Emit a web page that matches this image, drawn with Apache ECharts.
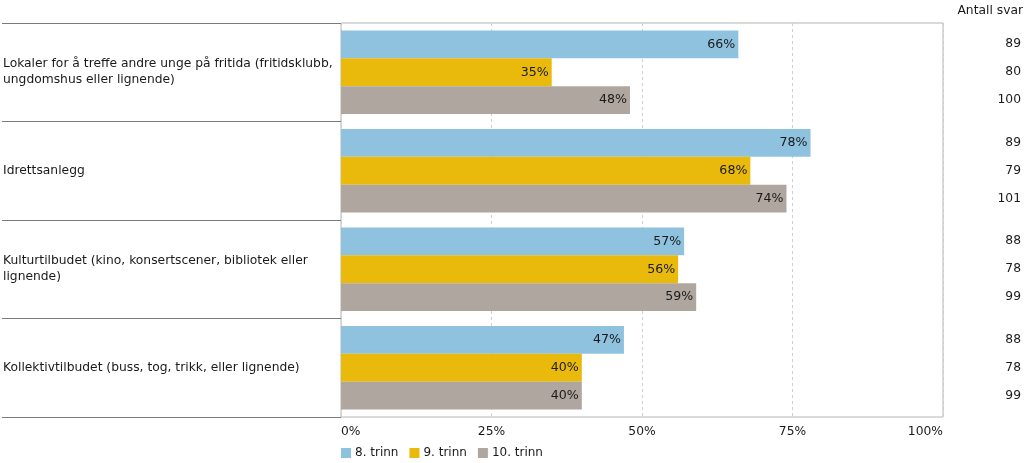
<!DOCTYPE html>
<html>
<head>
<meta charset="utf-8">
<script src="https://cdn.jsdelivr.net/npm/echarts@6/dist/echarts.min.js"></script>
<style>
html,body{margin:0;padding:0;background:#fff;}
#chart{width:1024px;height:463px;}
</style>
</head>
<body>
<div id="chart"></div>
<script>
var categories = [
  "Lokaler for å treffe andre unge på fritida (fritidsklubb, ungdomshus eller lignende)",
  "Idrettsanlegg",
  "Kulturtilbudet (kino, konsertscener, bibliotek eller lignende)",
  "Kollektivtilbudet (buss, tog, trikk, eller lignende)"
];
var seriesNames = ["8. trinn", "9. trinn", "10. trinn"];
var trinn8 = [66, 78, 57, 47];
var trinn9 = [35, 68, 56, 40];
var trinn10 = [48, 74, 59, 40];
var svar8 = [89, 89, 88, 88];
var svar9 = [80, 79, 78, 78];
var svar10 = [100, 101, 99, 99];
var xTicks = [0, 25, 50, 75, 100];

var FONT = "'DejaVu Sans', Verdana, sans-serif";
var FS = 12.3;
var colors = ["#8EC2DF", "#E9B90C", "#AFA69F"];
var values = [trinn8, trinn9, trinn10];

var chart = echarts.init(document.getElementById('chart'), null, {renderer: 'canvas'});

var series = values.map(function (vals, i) {
  return {
    name: seriesNames[i],
    type: 'bar',
    xAxisIndex: 1,
    yAxisIndex: 1,
    data: vals,
    barGap: '0%',
    barCategoryGap: '15%',
    itemStyle: {color: colors[i]},
    label: {
      show: true,
      position: 'insideRight',
      distance: 3,
      formatter: '{c}%',
      color: '#1a1a1a',
      fontFamily: FONT,
      fontSize: 12.6
    },
    emphasis: {disabled: true}
  };
});

var option = {
  animation: false,
  color: colors,
  textStyle: {fontFamily: FONT},
  title: {
    text: 'Antall svar',
    right: 1,
    top: 5,
    padding: 0,
    textStyle: {fontFamily: FONT, fontSize: FS, fontWeight: 'normal', color: '#1a1a1a'}
  },
  legend: {
    data: seriesNames,
    left: 341,
    top: 447,
    padding: 0,
    itemWidth: 10,
    itemHeight: 10,
    itemGap: 11,
    icon: 'rect',
    textStyle: {fontFamily: FONT, fontSize: 12, color: '#1a1a1a', padding: [0, 0, 0, -1]}
  },
  grid: [
    {left: 0, width: 341, top: 23, bottom: 46, containLabel: false},
    {left: 341, right: 81, top: 23, bottom: 46, containLabel: false, show: true, borderColor: '#b4b4b4', borderWidth: 1}
  ],
  xAxis: [
    {gridIndex: 0, type: 'value', show: false, min: 0, max: 1},
    {
      gridIndex: 1, type: 'value', min: xTicks[0], max: xTicks[xTicks.length - 1], interval: 25,
      axisLine: {show: false}, axisTick: {show: false},
      axisLabel: {
        formatter: '{value}%', color: '#1a1a1a', fontFamily: FONT, fontSize: FS, margin: 9,
        alignMinLabel: 'left', alignMaxLabel: 'right'
      },
      splitLine: {show: true, lineStyle: {color: '#cfcfcf', type: [3, 3], width: 1}}
    }
  ],
  yAxis: [
    {
      gridIndex: 0, type: 'category', data: categories, inverse: true,
      axisLine: {show: false}, axisTick: {show: false},
      axisLabel: {
        inside: true, align: 'left', margin: 1, color: '#1a1a1a', fontFamily: FONT, fontSize: FS,
        width: 350, overflow: 'break', lineHeight: 16, interval: 0
      },
      splitLine: {show: true, interval: 0, lineStyle: {color: '#7a7a7a', width: 1.2}}
    },
    {
      gridIndex: 1, type: 'category', data: categories, inverse: true,
      axisLine: {show: false}, axisTick: {show: false}, axisLabel: {show: false},
      splitLine: {show: false}
    },
    {
      gridIndex: 1, type: 'category', data: categories, inverse: true, position: 'right',
      axisLine: {show: false}, axisTick: {show: false}, splitLine: {show: false},
      axisLabel: {
        interval: 0, align: 'right', margin: 78, lineHeight: 28, color: '#1a1a1a',
        fontFamily: FONT, fontSize: FS,
        formatter: function (v, idx) {
          return [svar8[idx], svar9[idx], svar10[idx]].join('\n');
        }
      }
    }
  ],
  series: series
};

chart.setOption(option);
</script>
</body>
</html>
